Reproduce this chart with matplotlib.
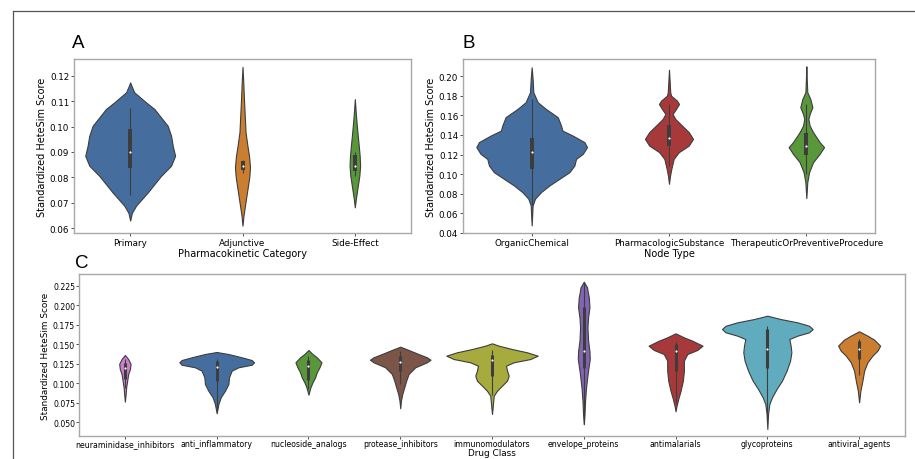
import numpy as np
import matplotlib
matplotlib.use('Agg')
from matplotlib import pyplot as plt
from matplotlib.lines import Line2D

# ---- panel A: pharmacokinetic category ----
a_categories = ['Primary', 'Adjunctive', 'Side-Effect']
a_levels = [
    [0.1174, 0.1160, 0.1135, 0.1095, 0.1069, 0.1003, 0.0964, 0.0924, 0.0885, 0.0846, 0.0806, 0.0741, 0.0689, 0.0660, 0.0630],
    [0.1235, 0.1174, 0.1108, 0.0978, 0.0924, 0.0885, 0.0840, 0.0800, 0.0768, 0.0715, 0.0689, 0.0650, 0.0610],
    [0.1108, 0.1050, 0.1003, 0.0960, 0.0924, 0.0885, 0.0846, 0.0806, 0.0768, 0.0715, 0.0682],
]
a_density = [
    [0.0, 0.012, 0.036, 0.142, 0.216, 0.334, 0.364, 0.379, 0.400, 0.364, 0.275, 0.157, 0.053, 0.015, 0.0],
    [0.0, 0.007, 0.013, 0.027, 0.044, 0.058, 0.067, 0.060, 0.049, 0.031, 0.022, 0.009, 0.0],
    [0.0, 0.009, 0.018, 0.027, 0.035, 0.043, 0.047, 0.040, 0.027, 0.009, 0.0],
]
# whisker low, q1, median, q3, whisker high
a_boxes = [
    (0.0730, 0.0837, 0.0901, 0.0990, 0.1075),
    (0.0818, 0.0829, 0.0845, 0.0866, 0.0870),
    (0.0806, 0.0826, 0.0846, 0.0888, 0.0899),
]

# ---- panel B: node type ----
b_categories = ['OrganicChemical', 'PharmacologicSubstance', 'TherapeuticOrPreventiveProcedure']
b_levels = [
    [0.2092, 0.1972, 0.1837, 0.1735, 0.1666, 0.1582, 0.1496, 0.1445, 0.1394, 0.1327, 0.1276, 0.1207, 0.1156,
     0.1088, 0.1020, 0.0952, 0.0884, 0.0816, 0.0748, 0.0680, 0.0476],
    [0.2067, 0.1940, 0.1837, 0.1802, 0.1751, 0.1717, 0.1666, 0.1615, 0.1564, 0.1496, 0.1429, 0.1360, 0.1292,
     0.1224, 0.1156, 0.1054, 0.0980, 0.0901],
    [0.2102, 0.1972, 0.1837, 0.1768, 0.1684, 0.1615, 0.1564, 0.1496, 0.1429, 0.1327, 0.1276, 0.1207, 0.1122,
     0.1020, 0.0918, 0.0755],
]
b_density = [
    [0.0, 0.007, 0.012, 0.044, 0.104, 0.190, 0.214, 0.224, 0.299, 0.384, 0.403, 0.372, 0.323,
     0.311, 0.275, 0.202, 0.129, 0.068, 0.024, 0.007, 0.0],
    [0.0, 0.005, 0.009, 0.015, 0.058, 0.073, 0.051, 0.026, 0.046, 0.095, 0.144, 0.175, 0.144,
     0.071, 0.034, 0.017, 0.007, 0.0],
    [0.0, 0.003, 0.007, 0.029, 0.044, 0.024, 0.015, 0.024, 0.049, 0.097, 0.129, 0.097, 0.049,
     0.020, 0.007, 0.0],
]
b_boxes = [
    (0.0680, 0.1054, 0.1224, 0.1367, 0.1768),
    (0.1088, 0.1292, 0.1367, 0.1503, 0.1717),
    (0.1000, 0.1200, 0.1288, 0.1425, 0.1717),
]

# ---- panel C: drug class ----
c_categories = ['neuraminidase_inhibitors', 'anti_inflammatory', 'nucleoside_analogs', 'protease_inhibitors',
                'immunomodulators', 'envelope_proteins', 'antimalarials', 'glycoproteins', 'antiviral_agents']
c_levels = [
    [0.1363, 0.1311, 0.1249, 0.1183, 0.1119, 0.1034, 0.0949, 0.0862, 0.0765],
    [0.1401, 0.1375, 0.1333, 0.1298, 0.1269, 0.1238, 0.1205, 0.1162, 0.1076, 0.0991, 0.0905, 0.0820, 0.0735, 0.0616],
    [0.1427, 0.1375, 0.1333, 0.1269, 0.1205, 0.1141, 0.1076, 0.1012, 0.0949, 0.0854],
    [0.1469, 0.1427, 0.1375, 0.1333, 0.1302, 0.1269, 0.1205, 0.1119, 0.1034, 0.0949, 0.0862, 0.0777, 0.0680],
    [0.1512, 0.1482, 0.1439, 0.1397, 0.1354, 0.1311, 0.1269, 0.1226, 0.1162, 0.1098, 0.1034, 0.0970, 0.0905,
     0.0841, 0.0607],
    [0.2301, 0.2229, 0.2165, 0.2101, 0.1973, 0.1845, 0.1717, 0.1546, 0.1409, 0.1311, 0.1141, 0.0949, 0.0777,
     0.0607, 0.0475],
    [0.1640, 0.1589, 0.1546, 0.1482, 0.1427, 0.1375, 0.1290, 0.1162, 0.1034, 0.0905, 0.0799, 0.0713, 0.0642],
    [0.1866, 0.1823, 0.1781, 0.1737, 0.1695, 0.1653, 0.1610, 0.1567, 0.1482, 0.1397, 0.1290, 0.1162, 0.1034,
     0.0927, 0.0821, 0.0735, 0.0607, 0.0415],
    [0.1666, 0.1610, 0.1559, 0.1482, 0.1418, 0.1354, 0.1269, 0.1162, 0.1034, 0.0905, 0.0756],
]
c_density = [
    [0.0, 0.036, 0.062, 0.055, 0.036, 0.025, 0.014, 0.008, 0.0],
    [0.0, 0.128, 0.273, 0.382, 0.407, 0.382, 0.237, 0.164, 0.134, 0.128, 0.091, 0.044, 0.019, 0.0],
    [0.0, 0.044, 0.091, 0.142, 0.120, 0.091, 0.073, 0.044, 0.022, 0.0],
    [0.0, 0.091, 0.200, 0.291, 0.330, 0.291, 0.164, 0.091, 0.065, 0.044, 0.022, 0.008, 0.0],
    [0.0, 0.073, 0.218, 0.382, 0.498, 0.418, 0.237, 0.153, 0.164, 0.182, 0.164, 0.109, 0.055, 0.019, 0.0],
    [0.0, 0.036, 0.044, 0.055, 0.062, 0.047, 0.040, 0.047, 0.062, 0.065, 0.044, 0.025, 0.014, 0.008, 0.0],
    [0.0, 0.091, 0.182, 0.294, 0.237, 0.128, 0.091, 0.091, 0.080, 0.055, 0.029, 0.011, 0.0],
    [0.0, 0.145, 0.327, 0.455, 0.494, 0.455, 0.327, 0.240, 0.254, 0.262, 0.248, 0.210, 0.160,
     0.101, 0.051, 0.022, 0.008, 0.0],
    [0.0, 0.091, 0.164, 0.229, 0.200, 0.145, 0.091, 0.055, 0.036, 0.014, 0.0],
]
c_boxes = [
    (0.0935, 0.1055, 0.1190, 0.1260, 0.1310),
    (0.0650, 0.1030, 0.1210, 0.1280, 0.1310),
    (0.0930, 0.1040, 0.1226, 0.1300, 0.1354),
    (0.0990, 0.1162, 0.1269, 0.1354, 0.1410),
    (0.0850, 0.1090, 0.1300, 0.1367, 0.1430),
    (0.0480, 0.1192, 0.1409, 0.1981, 0.2301),
    (0.0750, 0.1154, 0.1418, 0.1503, 0.1525),
    (0.0500, 0.1200, 0.1439, 0.1695, 0.1737),
    (0.1100, 0.1311, 0.1439, 0.1546, 0.1570),
]

blue, orange, green, red = '#456e9f', '#cb7e2f', '#58973a', '#a8393a'
brown, olive, purple, cyan, pink = '#7c5549', '#a7aa3c', '#8264b2', '#60abbd', '#cc7ecb'
a_colors = [blue, orange, green]
b_colors = [blue, red, green]
c_colors = [pink, blue, green, brown, olive, purple, red, cyan, orange]

edge = '#3d3d3d'


def violins(ax, levels, density, boxes, colors, box_lw=2.9):
    for i, (lv, dn, bx, col) in enumerate(zip(levels, density, boxes, colors)):
        lv = np.asarray(lv)
        dn = np.asarray(dn)
        ax.fill_betweenx(lv, i - dn, i + dn, facecolor=col, edgecolor=edge, linewidth=0.8, zorder=1)
        lo, q1, med, q3, hi = bx
        ax.vlines(i, lo, hi, color=edge, linewidth=0.8, zorder=2)
        ax.vlines(i, q1, q3, color=edge, linewidth=box_lw, zorder=2)
        ax.scatter([i], [med], s=2.5, color='white', zorder=3, linewidths=0)


def style(ax, cats, ticks, fmt, tick_fs, label_fs, xlabel, tlen=2.5, tpad=1.0, xpad=0.5):
    ax.set_xlim(-0.5, len(cats) - 0.5)
    ax.set_xticks(range(len(cats)))
    ax.set_xticklabels(cats)
    ax.set_yticks(ticks)
    ax.set_yticklabels([fmt.format(t) for t in ticks])
    ax.tick_params(labelsize=tick_fs, length=tlen, width=0.6, pad=tpad, color='#333333')
    ax.set_xlabel(xlabel, fontsize=label_fs, labelpad=xpad)
    ax.set_ylabel('Standardized HeteSim Score', fontsize=label_fs, labelpad=2)
    for s in ax.spines.values():
        s.set_color('#a8a8a8')
        s.set_linewidth(1.0)


fig = plt.figure(figsize=(9.15, 4.6), dpi=100)
W, H = 915, 460


def axes_px(left, top, right, bottom):
    return fig.add_axes([left / W, 1 - bottom / H, (right - left) / W, (bottom - top) / H])


ax_a = axes_px(74, 60, 411, 234)
violins(ax_a, a_levels, a_density, a_boxes, a_colors)
ax_a.set_ylim(0.0581, 0.1266)
style(ax_a, a_categories, np.arange(0.06, 0.1201, 0.01), '{:.2f}', 6.3, 7.0, 'Pharmacokinetic Category')

ax_b = axes_px(463, 60, 875, 234)
violins(ax_b, b_levels, b_density, b_boxes, b_colors)
ax_b.set_ylim(0.0398, 0.2177)
style(ax_b, b_categories, np.arange(0.04, 0.2001, 0.02), '{:.2f}', 6.3, 7.0, 'Node Type')

ax_c = axes_px(79, 275, 905, 437)
violins(ax_c, c_levels, c_density, c_boxes, c_colors, box_lw=2.2)
ax_c.set_ylim(0.0325, 0.2400)
style(ax_c, c_categories, np.arange(0.05, 0.2251, 0.025), '{:.3f}', 5.6, 6.4, 'Drug Class',
      tlen=2.0, tpad=0.8, xpad=0.0)
ax_c.tick_params(axis='x', pad=0.3)

fig.text(72 / W, 1 - 48 / H, 'A', fontsize=13.5, family='Liberation Sans')
fig.text(462 / W, 1 - 48 / H, 'B', fontsize=13.5, family='Liberation Sans')
fig.text(75 / W, 1 - 268 / H, 'C', fontsize=13.5, family='Liberation Sans')

# screenshot frame
fig.add_artist(Line2D([13 / W, 1], [1 - 12 / H, 1 - 12 / H], color='#555555', linewidth=0.9))
fig.add_artist(Line2D([13 / W, 13 / W], [0, 1 - 12 / H], color='#555555', linewidth=0.9))

fig.savefig('out.png', dpi=100)
